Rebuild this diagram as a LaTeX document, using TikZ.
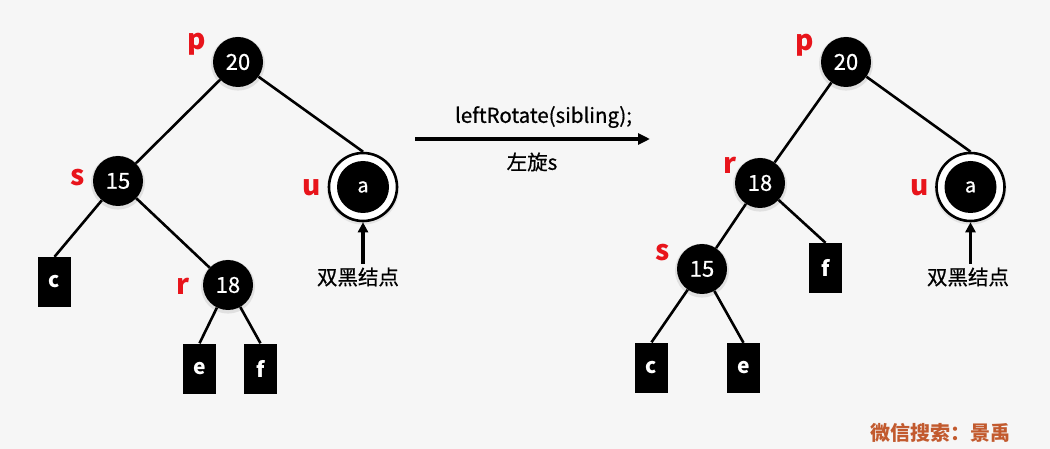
\documentclass[tikz,border=0pt]{standalone}
\usepackage{fontspec}
\setmainfont{Noto Sans CJK SC}
\newfontfamily\medfont[FakeBold=0.6]{Noto Sans CJK SC}
\usetikzlibrary{arrows.meta,shadows}
\definecolor{bg}{HTML}{F6F6F6}
\definecolor{lbl}{HTML}{E8141B}
\definecolor{wm}{HTML}{C25A2E}
\begin{document}
\begin{tikzpicture}[x=1pt,y=-1pt,
  rb/.style={circle, fill=black, minimum size=50pt, inner sep=0pt, text=white,
    font=\medfont\fontsize{22}{22}\selectfont,
    drop shadow={shadow xshift=0pt, shadow yshift=-1.5pt, opacity=0.18, shadow scale=1.08}},
  inner/.style={circle, fill=black, minimum size=52pt, inner sep=0pt, text=white,
    font=\medfont\fontsize{20}{20}\selectfont},
  leaf/.style={rectangle, fill=black, minimum width=33pt, minimum height=50pt, inner sep=0pt,
    text=white, font=\fontsize{21}{21}\selectfont\bfseries},
  ring/.style={circle, draw=black, line width=2.6pt, fill=white, minimum size=68pt, inner sep=0pt,
    drop shadow={shadow xshift=0pt, shadow yshift=-1.5pt, opacity=0.15, shadow scale=1.06}},
  lab/.style={text=lbl, font=\fontsize{28}{28}\selectfont\bfseries, inner sep=0pt},
  edge/.style={line width=2.6pt},
  note/.style={font=\medfont\fontsize{20.5}{20.5}\selectfont, inner sep=0pt},
  up/.style={line width=3.2pt, -{Triangle[length=10pt,width=10pt]}}
]
\fill[bg] (0,0) rectangle (1050,449);
\useasboundingbox (0,0) rectangle (1050,449);

% ---------- left tree ----------
\node[rb] (lp) at (238,62) {20};
\node[rb] (ls) at (118,181) {15};
\node[rb] (lr) at (228,285) {18};
\node[leaf] (lc) at (54.5,282) {c};
\node[leaf] (le) at (199.5,368.5) {e};
\node[leaf] (lf) at (260.5,368.5) {f};
\node[ring] (lu) at (363,187) {};
\node[inner] (la) at (363,187) {a};

\node[lab] (lpl) at (197,44) {p};
\node[lab] (lsl) at (78,178) {s};
\node[lab] (lrl) at (183,286) {r};
\node[lab] (lul) at (312,188) {u};

\draw[edge] (lp) -- (ls);
\draw[edge] (lp) -- (lu.north);
\draw[edge] (ls) -- (lc.north);
\draw[edge] (ls) -- (lr);
\draw[edge] (lr) -- (le.north);
\draw[edge] (lr) -- (lf.north);

\node[note] (ldh) at (358,277) {双黑结点};
\coordinate (ldt) at (363,264);
\draw[up] (ldt) -- (lu.south);

% ---------- middle arrow ----------
\coordinate (m1) at (415,139);
\coordinate (m2) at (650,139);
\draw[line width=3.2pt, -{Triangle[length=12pt,width=11pt]}] (m1) -- (m2);
\node[note] (mt) at (543.5,117) {leftRotate(sibling);};
\node[note] (mb) at (532,162) {左旋s};

% ---------- right tree ----------
\node[rb] (rp) at (846,62) {20};
\node[rb] (rr) at (760,183) {18};
\node[rb] (rs) at (702,269) {15};
\node[leaf] (rf) at (825.5,268) {f};
\node[leaf] (rc) at (651.5,367.5) {c};
\node[leaf] (re) at (743.5,368) {e};
\node[ring] (ru) at (970.5,187) {};
\node[inner] (ra) at (970.5,187) {a};

\node[lab] (rpl) at (805,45) {p};
\node[lab] (rrl) at (730,165) {r};
\node[lab] (rsl) at (663,253) {s};
\node[lab] (rul) at (920,188) {u};

\draw[edge] (rp) -- (rr);
\draw[edge] (rp) -- (ru.north);
\draw[edge] (rr) -- (rs);
\draw[edge] (rr) -- (rf.north);
\draw[edge] (rs) -- (rc.north);
\draw[edge] (rs) -- (re.north);

\node[note] (rdh) at (968,277) {双黑结点};
\coordinate (rdt) at (970.5,264);
\draw[up] (rdt) -- (ru.south);

% ---------- watermark ----------
\node[text=wm, font=\fontsize{20}{20}\selectfont\bfseries, inner sep=0pt] (wmk) at (940,433) {微信搜索：景禹};
\end{tikzpicture}
\end{document}
